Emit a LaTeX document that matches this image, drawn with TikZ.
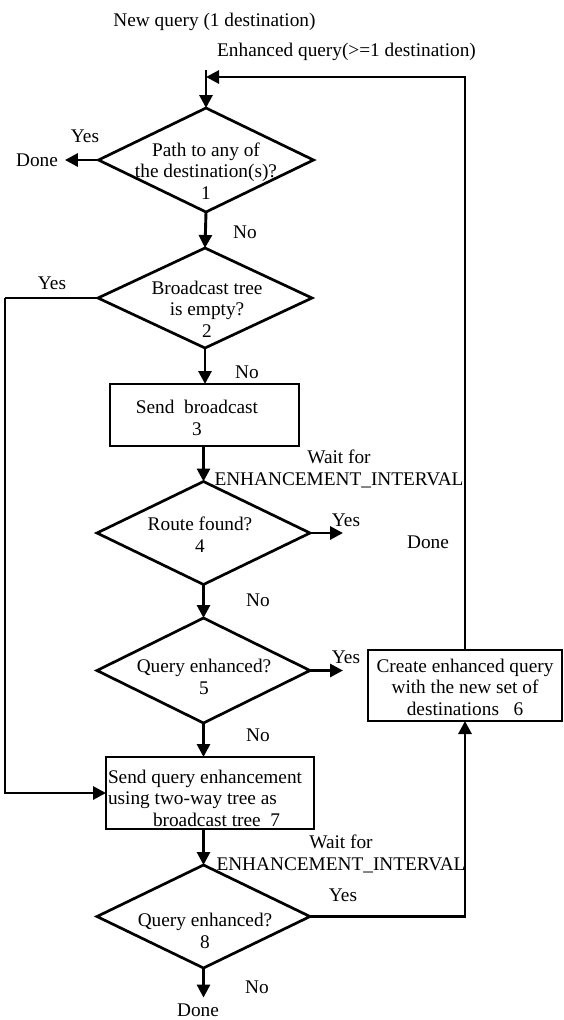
\documentclass[tikz,border=0pt]{standalone}
\usepackage{fontspec}
\setmainfont{Liberation Serif}
\usetikzlibrary{shapes.geometric,arrows.meta}
\begin{document}
\begin{tikzpicture}[x=1pt,y=-1pt,
  every node/.style={font=\fontsize{19.3}{21.5}\selectfont, inner sep=0pt, outer sep=0pt},
  dia/.style={draw, diamond, line width=2.7pt, minimum width=213pt, minimum height=103pt},
  procbox/.style={draw, rectangle, line width=2.7pt},
  conn/.style={line width=2.9pt},
  arr/.style={line width=2.9pt, -{Triangle[length=13pt,width=13pt]}}]
\useasboundingbox (0,0) rectangle (563,1020);

% entry labels
\node (newq) at (214.5,22) {New query (1 destination)};
\node (enhq) at (346.5,52) {Enhanced query(>=1 destination)};

% decision 1
\node[dia, minimum width=215pt, minimum height=104pt] (d1) at (206,160) {};
\node[align=center] (t1) at (206,171) {Path to any of\\the destination(s)?\\1};
\node (yes1) at (85,136) {Yes};
\node (done1) at (37,160) {Done};
\node (no1) at (245,232) {No};

% decision 2
\node[dia, minimum width=214pt, minimum height=100pt] (d2) at (205,298) {};
\node[align=center] (t2) at (207,309) {Broadcast tree\\is empty?\\2};
\node (yes2) at (52,283) {Yes};
\node (no2) at (247,372) {No};

% step 3
\node[procbox, minimum width=189pt, minimum height=62pt] (b3) at (204.5,415) {};
\node[align=center] (t3) at (197,418) {Send\ \ broadcast\\3};
\node[align=center] (wait1) at (339,469) {Wait for\\ENHANCEMENT\_INTERVAL};

% decision 4
\node[dia] (d4) at (203.5,533) {};
\node[align=center] (t4) at (200,534.5) {Route found?\\4};
\node (yes4) at (346,520) {Yes};
\node (done4) at (428,542) {Done};
\node (no4) at (258,600) {No};
\coordinate (y4) at (343,535);

% decision 5
\node[dia, minimum height=105pt] (d5) at (203.5,670.5) {};
\node[align=center] (t5) at (204,677) {Query enhanced?\\5};
\node (yes5) at (346,657) {Yes};
\node (no5) at (258,735) {No};
\coordinate (y5) at (343,673);

% step 6
\node[procbox, minimum width=194pt, minimum height=71pt] (b6) at (465,685.5) {};
\node[align=center] (t6) at (465,687) {Create enhanced query\\with the new set of\\destinations\ \ \ 6};

% step 7
\node[procbox, minimum width=208pt, minimum height=72pt] (b7) at (210,793) {};
\node[align=left, anchor=west] (t7) at (108,798) {Send query enhancement\\using two-way tree as\\\hspace*{45pt}broadcast tree\ \ 7};
\node[align=center] (wait2) at (341,854) {Wait for\\ENHANCEMENT\_INTERVAL};

% decision 8
\node[dia] (d8) at (203.5,916.5) {};
\node[align=center] (t8) at (205,931) {Query enhanced?\\8};
\node (yes8) at (343,895) {Yes};
\node (no8) at (257,987) {No};
\node (done8) at (198,1010) {Done};

% helper points for the loops
\coordinate (fbtop) at (206,70);
\coordinate (fbin) at (206,77);
\coordinate (lx) at (5,298);

% connectors
\draw[arr] (fbtop) -- (d1.north);
\draw[arr] (b6.north) |- (fbin);
\draw[arr, shorten >=7pt] (d1.west) -- (done1.east);
\draw[arr] (d1.south) -- (d2.north);
\draw[conn] (d2.west) -- (lx);
\draw[arr] (lx) |- (b7.west);
\draw[arr] (d2.south) -- (d2.south |- b3.north);
\draw[arr] (d4.north |- b3.south) -- (d4.north);
\draw[arr] (d4.east) -- (d4.east -| y4);
\draw[arr] (d4.south) -- (d5.north);
\draw[arr] (d5.east) -- (d5.east -| y5);
\draw[arr] (d5.south) -- (d5.south |- b7.north);
\draw[arr] (d8.north |- b7.south) -- (d8.north);
\draw[arr] (d8.east) -| (b6.south);
\draw[arr, shorten >=6pt] (d8.south) -- (d8.south |- done8.north);
\end{tikzpicture}
\end{document}
